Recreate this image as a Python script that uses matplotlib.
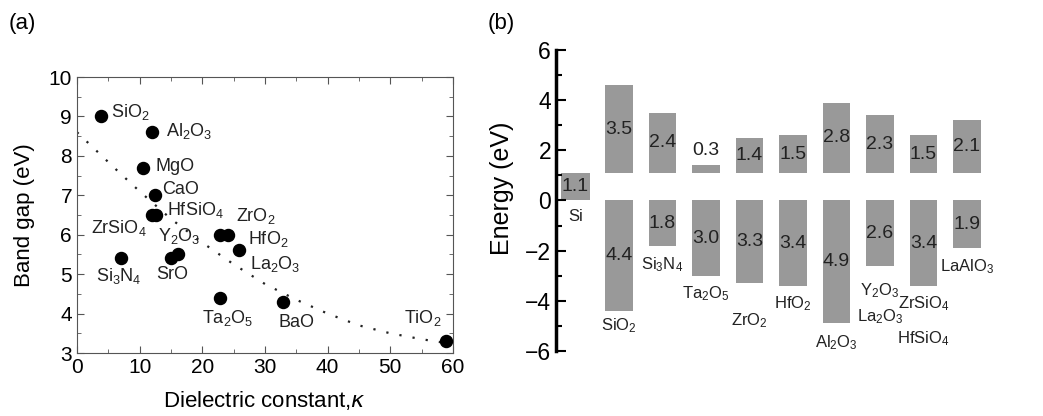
import matplotlib
matplotlib.use("Agg")
import matplotlib.pyplot as plt
from matplotlib.ticker import MultipleLocator

plt.rcParams['font.family'] = ['Liberation Sans', 'DejaVu Sans']
plt.rcParams['mathtext.default'] = 'regular'

# (a) band gap vs dielectric constant
kappa = [3.9, 11.9, 10.5, 12.5, 11.9, 12.6, 22.9, 24.1, 25.9, 7.0, 15.0, 16.1, 22.9, 32.9, 58.9]
gap = [9.0, 8.6, 7.7, 7.0, 6.5, 6.5, 6.0, 6.0, 5.6, 5.4, 5.4, 5.5, 4.4, 4.3, 3.3]

names_a = [r'SiO$_2$', r'Al$_2$O$_3$', 'MgO', 'CaO', r'HfSiO$_4$', r'ZrSiO$_4$',
           r'Y$_2$O$_3$', r'ZrO$_2$', r'HfO$_2$', r'La$_2$O$_3$', r'Si$_3$N$_4$',
           'SrO', r'Ta$_2$O$_5$', 'BaO', r'TiO$_2$']
label_x = [5.5, 14.2, 12.6, 13.6, 14.4, 2.3, 12.9, 25.3, 27.3, 27.6, 3.1, 12.7, 19.9, 32.1, 52.2]
label_y = [9.12, 8.62, 7.74, 7.15, 6.62, 6.18, 5.98, 6.48, 5.9, 5.25, 4.95, 4.98, 3.88, 3.78, 3.9]

# trend curve
trend_k = [0, 3.3, 6.6, 10, 15, 20, 25, 30, 35, 40, 45, 50, 55, 59]
trend_e = [8.6, 8.1, 7.6, 7.1, 6.4, 5.8, 5.25, 4.75, 4.35, 4.0, 3.7, 3.5, 3.35, 3.25]

# (b) band offsets
oxides = ['Si', r'SiO$_2$', r'Si$_3$N$_4$', r'Ta$_2$O$_5$', r'ZrO$_2$', r'HfO$_2$',
          r'Al$_2$O$_3$', r'Y$_2$O$_3$', r'ZrSiO$_4$', r'LaAlO$_3$']
si_gap = 1.1
cb_offset = [3.5, 2.4, 0.3, 1.4, 1.5, 2.8, 2.3, 1.5, 2.1]
vb_offset = [4.4, 1.8, 3.0, 3.3, 3.4, 4.9, 2.6, 3.4, 1.9]
name_y = [-0.65, -5.0, -2.55, -3.7, -4.8, -4.1, -5.65, -3.6, -4.1, -2.65]
extra_names = [(7, r'La$_2$O$_3$', -4.65), (8, r'HfSiO$_4$', -5.5)]

fig = plt.figure(figsize=(10.43, 4.16), dpi=100)

ax1 = fig.add_axes([0.0738, 0.1514, 0.3605, 0.6635])
ax1.plot(trend_k, trend_e, ls=(0, (1, 5)), color='#222222', lw=1.6)
ax1.scatter(kappa, gap, s=75, color='black', zorder=3)
for n, x, y in zip(names_a, label_x, label_y):
    ax1.text(x, y, n, fontsize=13, va='center', ha='left', color='#222222')
ax1.set_xlim(0, 60)
ax1.set_ylim(3, 10)
ax1.xaxis.set_major_locator(MultipleLocator(10))
ax1.xaxis.set_minor_locator(MultipleLocator(5))
ax1.yaxis.set_major_locator(MultipleLocator(1))
ax1.yaxis.set_minor_locator(MultipleLocator(0.5))
ax1.tick_params(which='both', direction='in', top=True, right=True, color='#555555')
ax1.tick_params(which='major', length=5, labelsize=15)
ax1.tick_params(which='minor', length=3)
for s in ax1.spines.values():
    s.set_color('#555555')
ax1.set_xlabel(r'Dielectric constant,$\it{\kappa}$', fontsize=16, labelpad=9)
ax1.set_ylabel('Band gap (eV)', fontsize=16, labelpad=10)
fig.text(0.008, 0.93, '(a)', fontsize=16)

ax2 = fig.add_axes([0.533, 0.1563, 0.415, 0.7235])
xs = list(range(len(oxides)))
ax2.bar(xs[0], si_gap, bottom=0, width=0.66, color='#999999')
ax2.bar(xs[1:], cb_offset, bottom=si_gap, width=0.64, color='#999999')
ax2.bar(xs[1:], [-v for v in vb_offset], bottom=0, width=0.64, color='#999999')
ax2.text(xs[0], si_gap / 2, f'{si_gap:.1f}', ha='center', va='center', fontsize=14, color='#222222')
for x, c, v in zip(xs[1:], cb_offset, vb_offset):
    ty = si_gap + c / 2 if c > 1 else si_gap + c + 0.6
    ax2.text(x, ty, f'{c:.1f}', ha='center', va='center', fontsize=14, color='#222222')
    ax2.text(x, -v / 2, f'{v:.1f}', ha='center', va='center', fontsize=14, color='#222222')
for x, n, y in zip(xs, oxides, name_y):
    ax2.text(x, y, n, ha='center', va='center', fontsize=12, color='#222222')
for x, n, y in extra_names:
    ax2.text(x, y, n, ha='center', va='center', fontsize=12, color='#222222')
ax2.set_xlim(-0.45, 9.5)
ax2.set_ylim(-6, 6)
ax2.yaxis.set_major_locator(MultipleLocator(2))
ax2.yaxis.set_minor_locator(MultipleLocator(1))
for k in ['top', 'right', 'bottom']:
    ax2.spines[k].set_visible(False)
ax2.spines['left'].set_linewidth(2.5)
ax2.set_xticks([])
ax2.tick_params(which='both', direction='in', width=1.5)
ax2.tick_params(which='major', length=7, labelsize=16.5)
ax2.tick_params(which='minor', length=4)
ax2.set_ylabel('Energy (eV)', fontsize=18, labelpad=8, y=0.54)
fig.text(0.468, 0.93, '(b)', fontsize=16)

fig.savefig('out.png', dpi=100)
